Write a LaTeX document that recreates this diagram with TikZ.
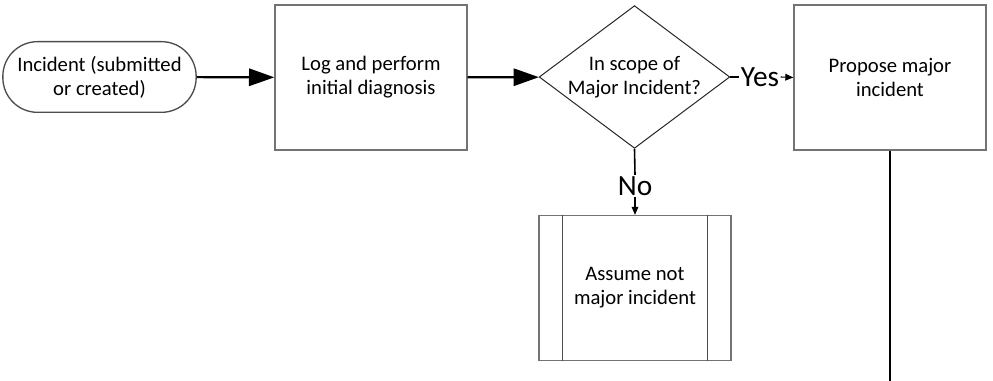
\documentclass[tikz,border=0pt]{standalone}
\usepackage{fontspec}
\setmainfont{Carlito}
\usetikzlibrary{shapes.geometric, arrows.meta}

\begin{document}
\begin{tikzpicture}[x = 0.75pt, y = 0.75pt,
	box/.style = {draw = black!55, line width = 1pt, minimum width = 144pt, minimum height = 108.75pt, align = center, text = black, font = \fontsize{15.5}{18}\selectfont},
	flow/.style = {line width = 1.6pt, -{Triangle[length = 19pt, width = 13pt]}},
	thin/.style = {line width = 0.8pt, -{Triangle[length = 6pt, width = 5pt]}},
	answer/.style = {inner sep = 1pt, font = \fontsize{22}{24}\selectfont}]
	
	\useasboundingbox (0, 0) rectangle (993, 381);
	
	\node[box, draw = black!70, rounded corners = 26pt, minimum width = 145pt, minimum height = 53pt] (start) at (99.5, 304) {Incident (submitted\\or created)};
	
	\node[box] (log) at (371, 303.5) {Log and perform\\initial diagnosis};
	
	\node[box, diamond, aspect = 1.34, draw = black!85, line width = 0.75pt, inner sep = 0pt, minimum width = 143pt, minimum height = 107pt] (scope) at (634.5, 304) {In scope of\\Major Incident?};
	
	\node[box] (propose) at (890, 303.5) {Propose major\\incident};
	
	\node[box] (assume) at (635, 93) {Assume not\\major incident};
	\draw[black!70, line width = 0.8pt] ([xshift = 18pt] assume.north west) to ([xshift = 18pt] assume.south west);
	\draw[black!70, line width = 0.8pt] ([xshift = -18pt] assume.north east) to ([xshift = -18pt] assume.south east);
	
	\draw[flow] (start) to (log);
	\draw[flow] (log) to (scope);
	
	% yes / no branches
	\node[answer] (yes) at (760, 304) {Yes};
	\draw[line width = 1pt] (scope.east) to (yes.west);
	\draw[thin] (yes.east) to (propose.west);
	
	\node[answer] (no) at (635, 195) {No};
	\draw[line width = 1.2pt] (scope.south) to (no.north);
	\draw[thin] (no.south) to (assume.north);
	
	\coordinate (down) at (890, 0);
	\draw[line width = 1.6pt] (propose.south) to (down);
\end{tikzpicture}
\end{document}
